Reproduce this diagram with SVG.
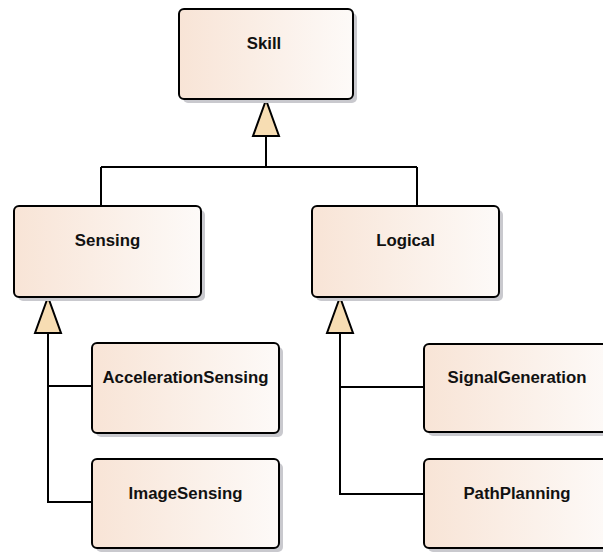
<svg xmlns="http://www.w3.org/2000/svg" width="603" height="552" viewBox="0 0 603 552">
<defs>
<linearGradient id="g" x1="0" y1="0" x2="1" y2="0">
<stop offset="0" stop-color="#F8E4D6"/>
<stop offset="1" stop-color="#FDFAF8"/>
</linearGradient>
</defs>
<style>
.sh{fill:#C9C9CE}
.box{fill:url(#g);stroke:#000;stroke-width:2}
.lbl{font-family:"Liberation Sans",Arial,sans-serif;font-weight:bold;font-size:16.8px;text-anchor:middle;fill:#111}
.ln{fill:none;stroke:#000;stroke-width:2}
.tri{fill:#F7DDB3;stroke:#000;stroke-width:2;stroke-linejoin:miter}
</style>
<rect width="603" height="552" fill="#fff"/>
<g id="connectors">
<path class="ln" d="M266 136 V167 M101 167 H417 M101 167 V206 M417 167 V206"/>
<path class="ln" d="M48 333 V502 H92 M48 386 H92"/>
<path class="ln" d="M340 333 V494 H424 M340 387 H424"/>
<polygon class="tri" points="266,100 253,136 279,136"/>
<polygon class="tri" points="48,297 35,333 61,333"/>
<polygon class="tri" points="340,297 327,333 353,333"/>
</g>
<g id="Skill">
<rect class="sh" x="183" y="13" width="174" height="90" rx="5"/>
<rect class="box" x="179" y="9" width="174" height="90" rx="5"/>
<text class="lbl" x="264" y="49">Skill</text>
</g>
<g id="Sensing">
<rect class="sh" x="18" y="210" width="187" height="91" rx="5"/>
<rect class="box" x="14" y="206" width="187" height="91" rx="5"/>
<text class="lbl" x="107.5" y="246">Sensing</text>
</g>
<g id="Logical">
<rect class="sh" x="316" y="210" width="187" height="91" rx="5"/>
<rect class="box" x="312" y="206" width="187" height="91" rx="5"/>
<text class="lbl" x="405.5" y="246">Logical</text>
</g>
<g id="AccelerationSensing">
<rect class="sh" x="96" y="347" width="187" height="90" rx="5"/>
<rect class="box" x="92" y="343" width="187" height="90" rx="5"/>
<text class="lbl" x="185.5" y="383">AccelerationSensing</text>
</g>
<g id="ImageSensing">
<rect class="sh" x="96" y="463" width="187" height="89" rx="5"/>
<rect class="box" x="92" y="459" width="187" height="89" rx="5"/>
<text class="lbl" x="185.5" y="499">ImageSensing</text>
</g>
<g id="SignalGeneration">
<rect class="sh" x="428" y="348" width="187" height="88" rx="5"/>
<rect class="box" x="424" y="344" width="187" height="88" rx="5"/>
<text class="lbl" x="517" y="383">SignalGeneration</text>
</g>
<g id="PathPlanning">
<rect class="sh" x="428" y="463" width="187" height="89" rx="5"/>
<rect class="box" x="424" y="459" width="187" height="89" rx="5"/>
<text class="lbl" x="517" y="499">PathPlanning</text>
</g>
</svg>
